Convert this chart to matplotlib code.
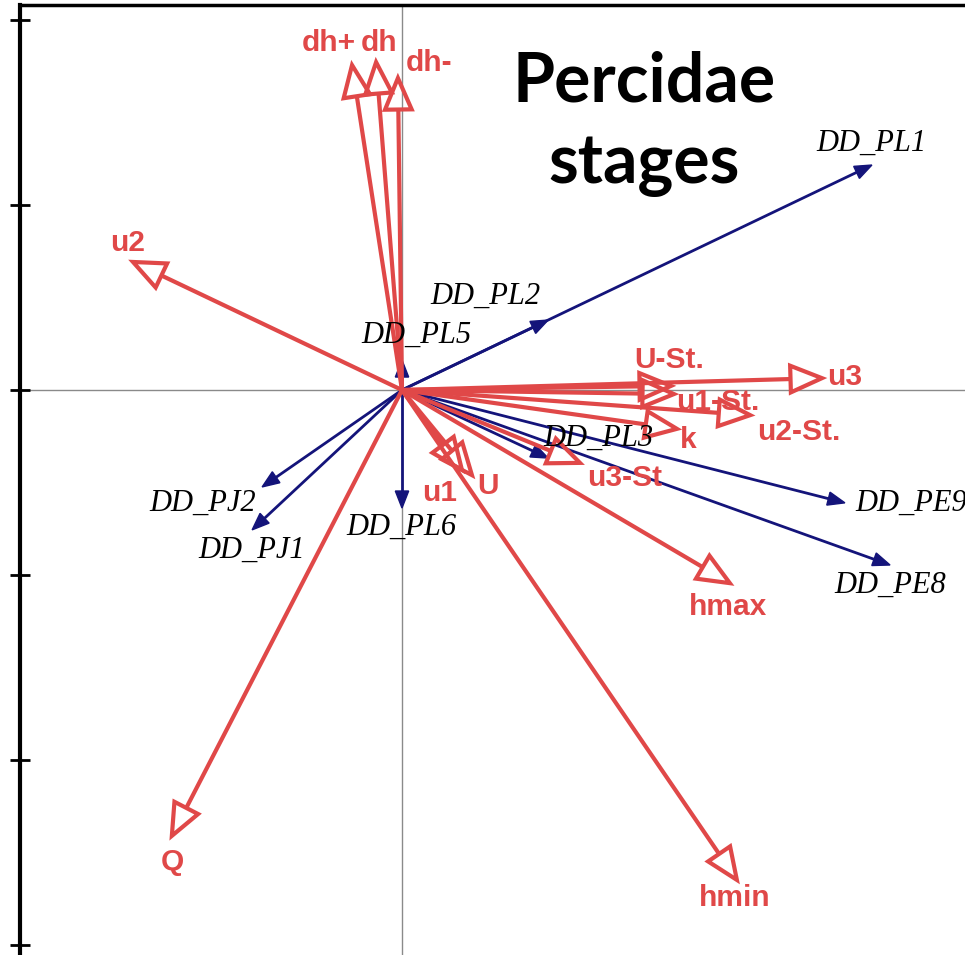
import numpy as np
import matplotlib
matplotlib.use("Agg")
import matplotlib.pyplot as plt
from matplotlib.patches import Polygon

# Environmental variables (red vectors) - biplot scores
env_names = ["dh+", "dh", "dh-", "u2", "U-St.", "u3", "u1-St.", "u2-St.", "k",
             "u3-St", "u1", "U", "hmax", "hmin", "Q"]
env_x = [-0.135, -0.070, -0.011, -0.727, 0.727, 1.135, 0.735, 0.941, 0.743,
         0.481, 0.162, 0.189, 0.886, 0.905, -0.622]
env_y = [0.878, 0.886, 0.843, 0.346, 0.011, 0.032, -0.011, -0.068, -0.105,
         -0.197, -0.216, -0.230, -0.522, -1.324, -1.205]

# Species / stage vectors (blue)
sp_names = ["DD_PL1", "DD_PL2", "DD_PL5", "DD_PL3", "DD_PE9", "DD_PE8",
            "DD_PJ2", "DD_PJ1", "DD_PL6"]
sp_x = [1.270, 0.395, 0.0, 0.395, 1.197, 1.319, -0.378, -0.405, 0.0]
sp_y = [0.608, 0.189, 0.081, -0.184, -0.305, -0.473, -0.262, -0.378, -0.319]

# label placement (offset in pixels from arrow tip)
env_off = {"dh+": (-23, -22), "dh": (3, -19), "dh-": (31, -15), "u2": (-5, -19),
           "U-St.": (-2, -26), "u3": (23, -1), "u1-St.": (44, 8), "u2-St.": (49, 17),
           "k": (11, 11), "u3-St": (45, 15), "u1": (-22, 23), "U": (16, 11),
           "hmax": (-2, 24), "hmin": (-2, 18), "Q": (1, 26)}
sp_off = {"DD_PL1": (0, -22), "DD_PL2": (-63, -24), "DD_PL5": (14, -25),
          "DD_PL3": (50, -20), "DD_PE9": (66, 0), "DD_PE8": (0, 20),
          "DD_PJ2": (-59, 16), "DD_PJ1": (0, 20), "DD_PL6": (-1, 19)}

RED = "#E04848"
BLUE = "#14147A"

W, H = 965, 955
fig = plt.figure(figsize=(W / 100, H / 100), dpi=100)
ax = fig.add_axes([20 / W, 0, 1 - 20 / W, 1 - 5 / H])
ax.set_xlim(-1.0324, 1.5216)
ax.set_ylim(-1.527, 1.0405)

ax.axhline(0, color="#8a8a8a", lw=1.0, zorder=1)
ax.axvline(0, color="#8a8a8a", lw=1.0, zorder=1)


def arrow(x, y, color, lw, hl, hw, filled, z):
    v = np.array([x, y])
    n = np.hypot(x, y)
    u = v / n
    p = np.array([-u[1], u[0]])
    base = v - u * hl
    ax.plot([0, base[0]], [0, base[1]], color=color, lw=lw,
            solid_capstyle="butt", zorder=z)
    tri = np.array([v, base + p * hw, base - p * hw])
    ax.add_patch(Polygon(tri, closed=True, fc=color if filled else "none",
                         ec=color, lw=lw if not filled else 1.0,
                         joinstyle="miter", zorder=z + 0.1))


for name, x, y in zip(sp_names, sp_x, sp_y):
    arrow(x, y, BLUE, 2.0, 0.046, 0.018, True, 3)
for name, x, y in zip(env_names, env_x, env_y):
    arrow(x, y, RED, 3.0, 0.085, 0.036, False, 4)

for name, x, y in zip(env_names, env_x, env_y):
    dx, dy = env_off[name]
    ax.annotate(name, (x, y), xytext=(dx, -dy), textcoords="offset pixels",
                ha="center", va="center", color=RED, fontsize=21.5,
                fontweight="bold", family="Liberation Sans", zorder=6)
for name, x, y in zip(sp_names, sp_x, sp_y):
    dx, dy = sp_off[name]
    ax.annotate(name, (x, y), xytext=(dx, -dy), textcoords="offset pixels",
                ha="center", va="center", color="black", fontsize=22,
                style="italic", family="Liberation Serif", zorder=6)

ax.text(0.660, 0.898, "Percidae", transform=ax.transAxes, ha="center",
        va="baseline", fontsize=49, fontweight="bold", family="Lato",
        color="black", zorder=7)
ax.text(0.660, 0.8126, "stages", transform=ax.transAxes, ha="center",
        va="baseline", fontsize=49, fontweight="bold", family="Lato",
        color="black", zorder=7)

for s in ("right", "bottom"):
    ax.spines[s].set_visible(False)
ax.spines["left"].set_linewidth(3)
ax.spines["top"].set_linewidth(2.5)
ax.set_yticks([1.0, 0.5, 0.0, -0.5, -1.0, -1.5])
ax.tick_params(axis="y", direction="inout", length=14, width=2,
               labelleft=False)
ax.set_xticks([])

fig.savefig("out.png", dpi=100)
